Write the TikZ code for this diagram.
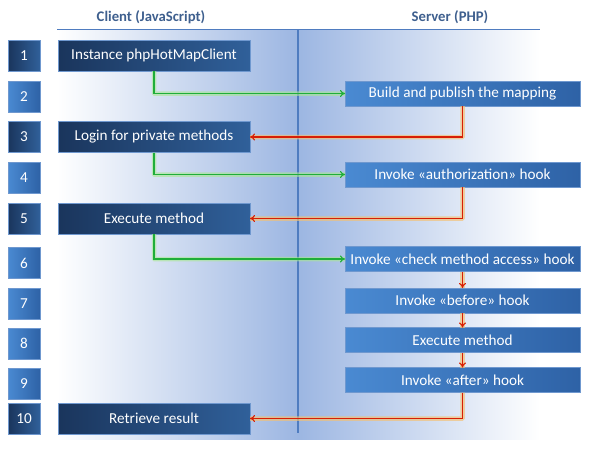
\documentclass[tikz,border=0pt]{standalone}
\usepackage{fontspec}
\setmainfont{Carlito}
\usetikzlibrary{arrows.meta}
\definecolor{titleblue}{HTML}{3E5F8E}
\definecolor{bgblue}{HTML}{9CB6E2}
\definecolor{lineblue}{HTML}{4F7CC0}
\definecolor{darkL}{HTML}{1A355C}
\definecolor{darkR}{HTML}{30609A}
\definecolor{lightL}{HTML}{4A8AD2}
\definecolor{lightR}{HTML}{2E62A6}
\definecolor{boxborder}{HTML}{6F98CF}
\definecolor{gline}{HTML}{1FAE3A}
\definecolor{gglow}{HTML}{A8E890}
\definecolor{rline}{HTML}{D81E05}
\definecolor{rglow}{HTML}{F5C070}
\tikzset{
  base/.style={inner sep=0pt, outer sep=0pt, text=white, draw=boxborder, line width=0.6pt,
    font=\fontsize{15.2}{17}\selectfont},
  numdark/.style={base, minimum width=32pt, minimum height=31pt, left color=darkL, right color=darkR},
  numlight/.style={base, minimum width=32pt, minimum height=31pt, shading angle=135, left color=lightL, right color=lightR},
  clientbox/.style={base, minimum width=192pt, minimum height=31pt, left color=darkL, right color=darkR},
  serverbox/.style={base, minimum width=235pt, minimum height=25pt, shading angle=100, left color=lightL, right color=lightR},
  title/.style={text=titleblue, font=\fontsize{14.7}{16}\selectfont\bfseries},
  gglowline/.style={line width=4.5pt, draw=gglow, draw opacity=0.6, rounded corners=0.5pt},
  rglowline/.style={line width=4.5pt, draw=rglow, draw opacity=0.65, rounded corners=0.5pt},
  garrow/.style={line width=1.1pt, draw=gline, -{To[length=5pt,width=7pt]}},
  rarrow/.style={line width=1.1pt, draw=rline, -{To[length=5pt,width=7pt]}},
}
\begin{document}
\begin{tikzpicture}[x=1pt,y=-1pt]
\useasboundingbox (0,0) rectangle (600,450);
% backgrounds
\shade[left color=white, right color=bgblue] (57,29) rectangle (298,439);
\shade[left color=bgblue, right color=white] (298,29) rectangle (540,439);
\draw[lineblue, line width=1pt] (57,29) -- (540,29);
\draw[lineblue, line width=1.2pt] (298,29) -- (298,433);
% titles
\node[title] (tc) at (151,17) {Client (JavaScript)};
\node[title] (ts) at (450,17) {Server (PHP)};
% number boxes
\node[numdark]  (n1)  at (24,55.5)  {1};
\node[numlight] (n2)  at (24,96.5)  {2};
\node[numdark]  (n3)  at (24,137)   {3};
\node[numlight] (n4)  at (24,177.5) {4};
\node[numdark]  (n5)  at (24,218.5) {5};
\node[numlight] (n6)  at (24,263)   {6};
\node[numlight] (n7)  at (24,303.5) {7};
\node[numlight] (n8)  at (24,343.5) {8};
\node[numlight] (n9)  at (24,383.5) {9};
\node[numdark]  (n10) at (24,418.5) {10};
% client boxes
\node[clientbox] (c1)  at (154,55.5)  {Instance phpHotMapClient};
\node[clientbox] (c3)  at (154,137)   {Login for private methods};
\node[clientbox] (c5)  at (154,218.5) {Execute method};
\node[clientbox] (c10) at (154,418.5) {Retrieve result};
% server boxes
\node[serverbox] (s2) at (462.5,93.5)  {Build and publish the mapping};
\node[serverbox] (s4) at (462.5,174.5) {Invoke «authorization» hook};
\node[serverbox] (s6) at (462.5,259)   {Invoke «check method access» hook};
\node[serverbox] (s7) at (462.5,300.5) {Invoke «before» hook};
\node[serverbox] (s8) at (462.5,340)   {Execute method};
\node[serverbox] (s9) at (462.5,380)   {Invoke «after» hook};
% glows
\draw[gglowline] (c1.south) |- (s2.west);
\draw[gglowline] (c3.south) |- (s4.west);
\draw[gglowline] (c5.south) |- (s6.west);
\draw[rglowline] (s2.south) |- (c3.east);
\draw[rglowline] (s4.south) |- (c5.east);
\draw[rglowline] (s9.south) |- (c10.east);
\draw[rglowline] (s6.south) -- (s7.north);
\draw[rglowline] (s7.south) -- (s8.north);
\draw[rglowline] (s8.south) -- (s9.north);
% connectors
\draw[garrow] (c1.south) |- (s2.west);
\draw[garrow] (c3.south) |- (s4.west);
\draw[garrow] (c5.south) |- (s6.west);
\draw[rarrow] (s2.south) |- (c3.east);
\draw[rarrow] (s4.south) |- (c5.east);
\draw[rarrow] (s9.south) |- (c10.east);
\draw[rarrow] (s6.south) -- (s7.north);
\draw[rarrow] (s7.south) -- (s8.north);
\draw[rarrow] (s8.south) -- (s9.north);
\end{tikzpicture}
\end{document}
